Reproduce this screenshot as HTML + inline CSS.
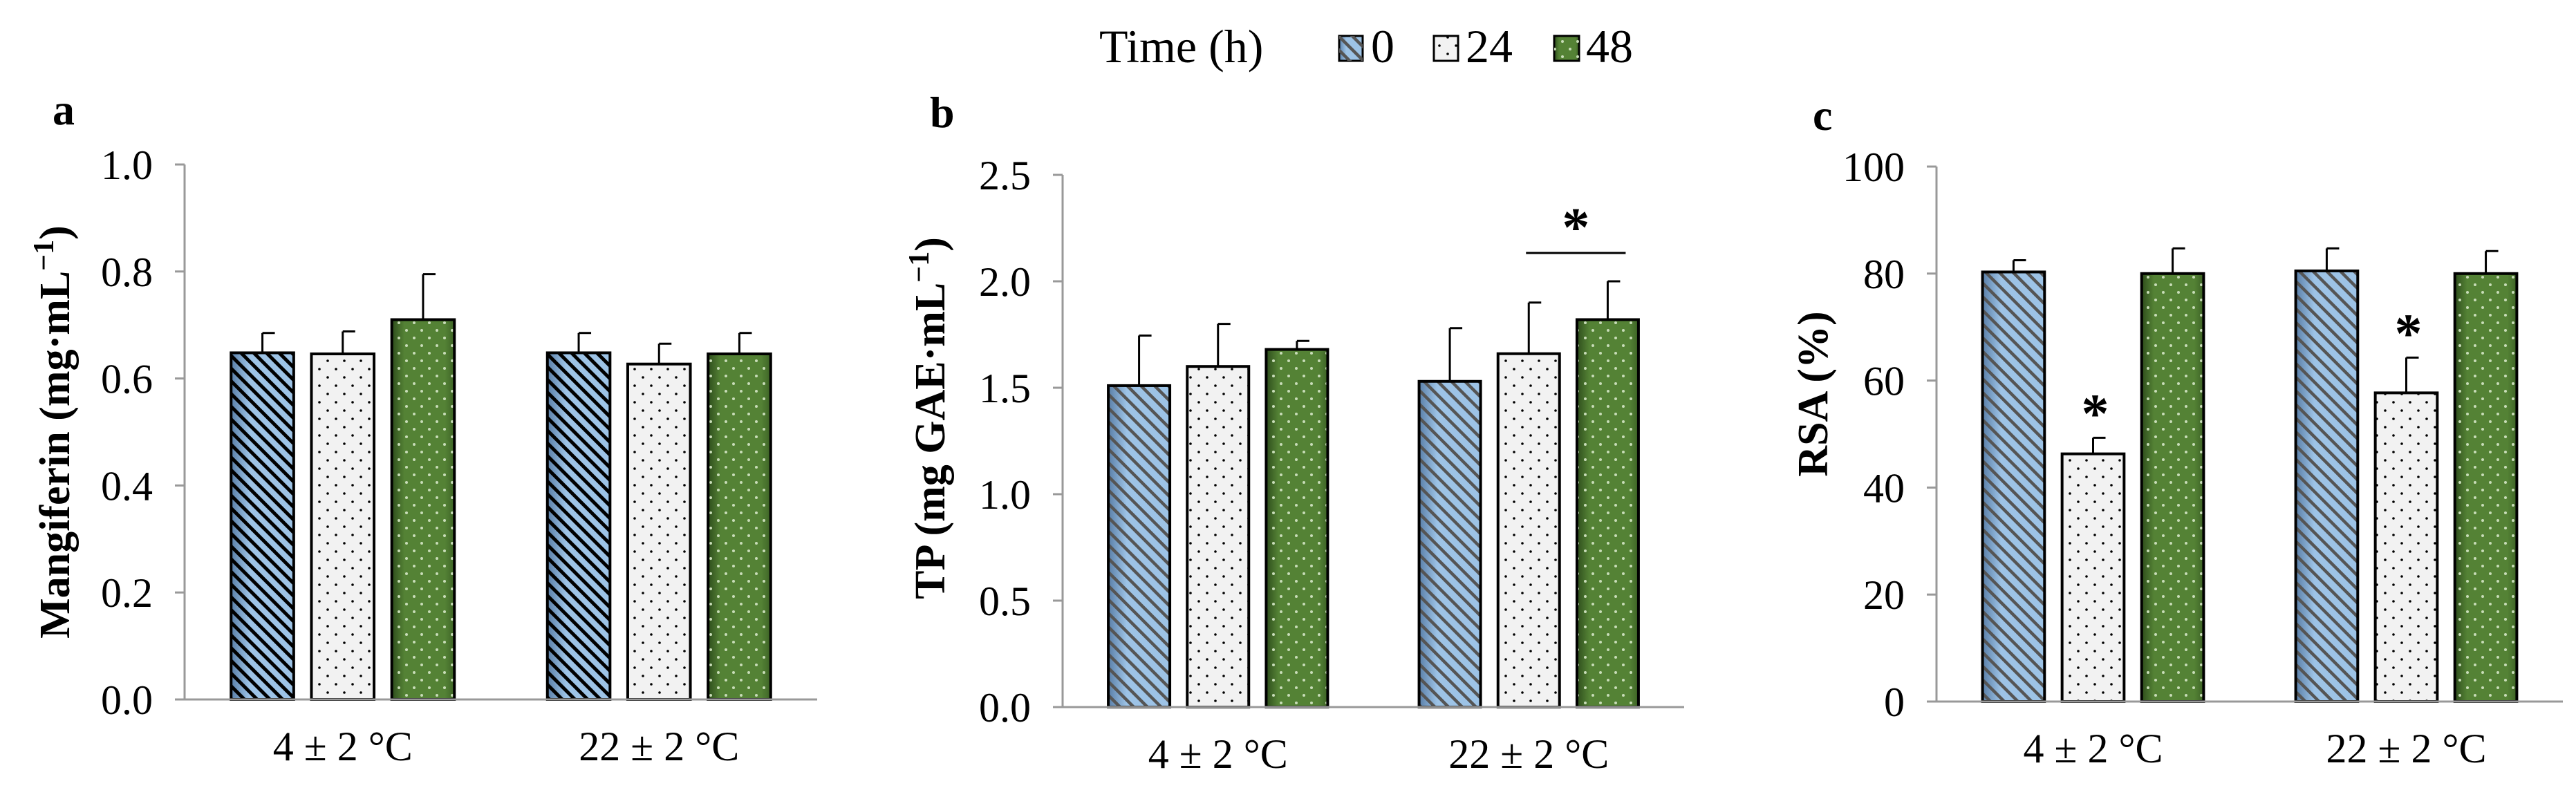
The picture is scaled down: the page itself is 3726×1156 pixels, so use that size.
<!DOCTYPE html>
<html><head><meta charset="utf-8"><style>
html,body{margin:0;padding:0;background:#fff}
svg{display:block}
svg text{font-family:"Liberation Serif","DejaVu Serif",serif !important;fill:#000}
</style></head><body>
<svg id="fig" width="3726" height="1156" viewBox="0 0 3726 1156" xmlns="http://www.w3.org/2000/svg" font-family="Liberation Serif, serif">
<defs>
<linearGradient id="gBlue" x1="0" x2="1"><stop offset="0" stop-color="#5a7fa8"/><stop offset="0.3" stop-color="#9dc3e6"/><stop offset="1" stop-color="#9dc3e6"/></linearGradient>
<pattern id="pBlueA" patternUnits="userSpaceOnUse" width="13" height="13" patternTransform="rotate(-45)"><rect x="0" y="0" width="5" height="13" fill="#000"/></pattern>
<pattern id="pBlueB" patternUnits="userSpaceOnUse" width="14" height="14" patternTransform="rotate(-45)"><rect x="0" y="0" width="4.5" height="14" fill="#555"/></pattern>
<pattern id="pDots" patternUnits="userSpaceOnUse" width="24" height="24"><rect width="24" height="24" fill="#f2f2f2"/><circle cx="6" cy="6" r="1.8" fill="#000"/><circle cx="18" cy="18" r="1.8" fill="#000"/></pattern>
<linearGradient id="gGreen" x1="0" x2="1"><stop offset="0" stop-color="#2e4d1c"/><stop offset="0.2" stop-color="#548235"/><stop offset="0.85" stop-color="#548235"/><stop offset="1" stop-color="#3d6326"/></linearGradient>
<pattern id="pGreen" patternUnits="userSpaceOnUse" width="22" height="22"><circle cx="5" cy="5" r="2" fill="#c8dcb8"/><circle cx="16" cy="16" r="2" fill="#c8dcb8"/></pattern>
</defs>
<g id="legend">
<text x="1590" y="90" font-size="68">Time (h)</text>
<g><rect x="1937" y="52" width="34" height="36" fill="url(#gBlue)" stroke="#000" stroke-width="3"/><rect x="1937" y="52" width="34" height="36" fill="url(#pBlueB)"/><text x="1983" y="90" font-size="68">0</text></g>
<g><rect x="2074" y="52" width="35" height="36" fill="url(#pDots)" stroke="#000" stroke-width="3"/><text x="2120" y="90" font-size="68">24</text></g>
<g><rect x="2248" y="52" width="36" height="36" fill="url(#gGreen)" stroke="#000" stroke-width="3"/><rect x="2248" y="52" width="36" height="36" fill="url(#pGreen)"/><text x="2294" y="90" font-size="68">48</text></g>
</g>
</svg>
<script>
const categories = ["4 \u00b1 2 \u00b0C", "22 \u00b1 2 \u00b0C"];
const seriesNames = ["0", "24", "48"];
const aValues = [[0.648, 0.646, 0.710], [0.648, 0.627, 0.646]];
const aErrors = [[0.037, 0.042, 0.085], [0.037, 0.038, 0.039]];
const bValues = [[1.51, 1.60, 1.68], [1.53, 1.66, 1.82]];
const bErrors = [[0.235, 0.20, 0.04], [0.25, 0.24, 0.18]];
const cValues = [[80.3, 46.3, 80.0], [80.5, 57.7, 80.0]];
const cErrors = [[2.2, 3.0, 4.7], [4.2, 6.6, 4.2]];
const aTicks = ["0.0", "0.2", "0.4", "0.6", "0.8", "1.0"];
const bTicks = ["0.0", "0.5", "1.0", "1.5", "2.0", "2.5"];
const cTicks = ["0", "20", "40", "60", "80", "100"];
const cStars = [[false, true, false], [false, true, false]];

const NS = "http://www.w3.org/2000/svg";
const svg = document.getElementById("fig");
function mk(tag, attrs, parent) {
  const e = document.createElementNS(NS, tag);
  for (const k in attrs) e.setAttribute(k, attrs[k]);
  (parent || svg).appendChild(e);
  return e;
}
function panel(cfg) {
  const g = mk("g", {});
  
  
  const yMax = parseFloat(cfg.ticks[cfg.ticks.length - 1]);
  const y = v => cfg.y0 - (v / yMax) * (cfg.y0 - cfg.yTop);
  const gw = (cfg.x1 - cfg.x0) / categories.length;
  const bw = gw * 0.198, step = gw * 0.254;
  const xc = (ci, si) => cfg.x0 + (ci + 0.5) * gw + (si - 1) * step;
  cfg.ticks.forEach(t => {
    const yy = y(parseFloat(t));
    mk("line", {x1: cfg.x0 - 14, x2: cfg.x0, y1: yy, y2: yy, stroke: "#999", "stroke-width": 3}, g);
    const tx = mk("text", {x: cfg.x0 - 46, y: yy + 21, "font-size": 60, "text-anchor": "end"}, g);
    tx.textContent = t;
    
    
  });
  cfg.values.forEach((row, ci) => {
    row.forEach((v, si) => {
      const cx = xc(ci, si), top = y(v), h = cfg.y0 - top;
      const bg = mk("g", {}, g);
      
      
      if (si === 0) {
        mk("rect", {x: cx - bw / 2, y: top, width: bw, height: h, fill: "url(#gBlue)"}, bg);
        mk("rect", {x: cx - bw / 2, y: top, width: bw, height: h, fill: cfg.letter === "a" ? "url(#pBlueA)" : "url(#pBlueB)"}, bg);
      } else if (si === 1) {
        mk("rect", {x: cx - bw / 2, y: top, width: bw, height: h, fill: "url(#pDots)"}, bg);
      } else {
        mk("rect", {x: cx - bw / 2, y: top, width: bw, height: h, fill: "url(#gGreen)"}, bg);
        mk("rect", {x: cx - bw / 2, y: top, width: bw, height: h, fill: "url(#pGreen)"}, bg);
      }
      mk("rect", {x: cx - bw / 2, y: top, width: bw, height: h, fill: "none", stroke: "#000", "stroke-width": 4}, bg);
      const et = y(v + cfg.errors[ci][si]);
      const eb = mk("g", {}, g);
      
      
      mk("line", {x1: cx, x2: cx, y1: top, y2: et, stroke: "#000", "stroke-width": 3}, eb);
      mk("line", {x1: cx, x2: cx + 18, y1: et, y2: et, stroke: "#000", "stroke-width": 3}, eb);
      if (cfg.stars && cfg.stars[ci][si]) {
        const st = mk("text", {x: cx + 3, y: et - 8, "font-size": 80, "font-weight": "bold", "text-anchor": "middle"}, g);
        st.textContent = "*";
        
        
      }
    });
    const cl = mk("text", {x: cfg.x0 + (ci + 0.5) * gw, y: cfg.y0 + 88, "font-size": 60, "text-anchor": "middle"}, g);
    cl.textContent = categories[ci];
    
    
  });
  mk("line", {x1: cfg.x0, x2: cfg.x0, y1: cfg.yTop, y2: cfg.y0, stroke: "#999", "stroke-width": 3}, g);
  mk("line", {x1: cfg.x0 - 14, x2: cfg.x1, y1: cfg.y0, y2: cfg.y0, stroke: "#999", "stroke-width": 3}, g);
  if (cfg.bracket) {
    const bl = mk("line", {x1: xc(1, 1) - 4, x2: xc(1, 2) + 26, y1: cfg.bracketY, y2: cfg.bracketY, stroke: "#000", "stroke-width": 3}, g);
    
    
    const st = mk("text", {x: (xc(1, 1) + xc(1, 2)) / 2 + 11, y: cfg.bracketY - 10, "font-size": 80, "font-weight": "bold", "text-anchor": "middle"}, g);
    st.textContent = "*";
    
    
  }
  const lt = mk("text", {x: cfg.lx, y: cfg.ly, "font-size": 64, "font-weight": "bold"}, g);
  lt.textContent = cfg.letter;
  
  
  const yt = mk("text", {x: 0, y: 0, "font-size": 62, "font-weight": "bold", "text-anchor": "middle", transform: "translate(" + cfg.tx + "," + cfg.ty + ") rotate(-90)"}, g);
  yt.innerHTML = cfg.title;
  
  
}
panel({letter: "a", x0: 267, x1: 1182, y0: 1012, yTop: 238, ticks: aTicks, values: aValues, errors: aErrors, lx: 76, ly: 180, tx: 100, ty: 625,
  title: 'Mangiferin (mg\u00b7mL<tspan baseline-shift="super" font-size="42">\u22121</tspan>)'});
panel({letter: "b", x0: 1537, x1: 2436, y0: 1023, yTop: 253, ticks: bTicks, values: bValues, errors: bErrors, lx: 1345, ly: 184, tx: 1366, ty: 605,
  bracket: true, bracketY: 366,
  title: 'TP (mg GAE\u00b7mL<tspan baseline-shift="super" font-size="42">\u22121</tspan>)'});
panel({letter: "c", x0: 2801, x1: 3707, y0: 1015, yTop: 241, ticks: cTicks, values: cValues, errors: cErrors, stars: cStars, lx: 2622, ly: 188, tx: 2643, ty: 570,
  title: 'RSA (%)'});
</script>
</body></html>
